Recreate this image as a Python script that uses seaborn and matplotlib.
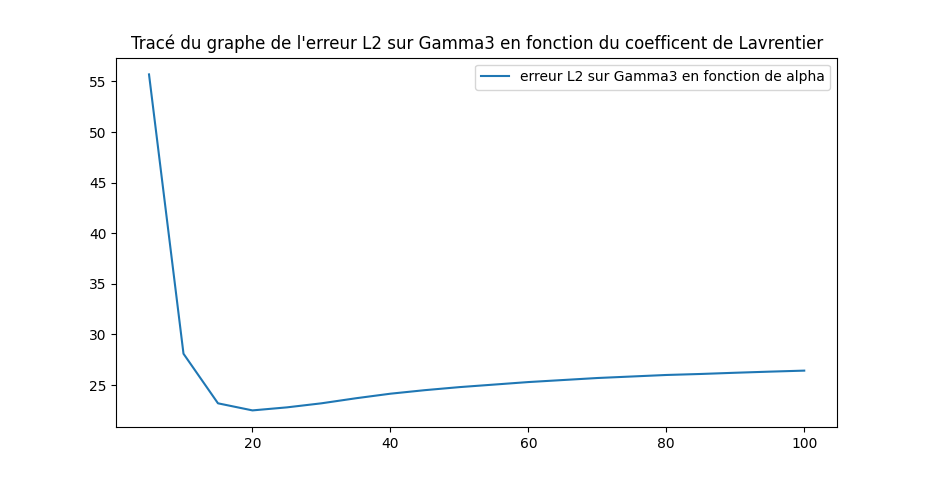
import matplotlib
matplotlib.use("Agg")
import matplotlib.pyplot as plt
import seaborn as sns
import pandas as pd

alpha = [5, 10, 15, 20, 25, 30, 35, 40, 45, 50, 55, 60, 65, 70, 75, 80, 85, 90, 95, 100]
erreur = [55.7, 28.1, 23.2, 22.5, 22.8, 23.2, 23.7, 24.15, 24.5, 24.8, 25.05, 25.3,
          25.5, 25.7, 25.85, 26.0, 26.1, 26.22, 26.33, 26.43]

df = pd.DataFrame({"alpha": alpha, "erreur": erreur})

fig, ax = plt.subplots(figsize=(9.3, 4.8), dpi=100)
sns.lineplot(data=df, x="alpha", y="erreur", ax=ax, color="#1f77b4",
             label="erreur L2 sur Gamma3 en fonction de alpha")
ax.set_title("Tracé du graphe de l'erreur L2 sur Gamma3 en fonction du coefficent de Lavrentier")
ax.set_xlabel("")
ax.set_ylabel("")
ax.legend(loc="upper right")
fig.savefig("out.png", dpi=100)
